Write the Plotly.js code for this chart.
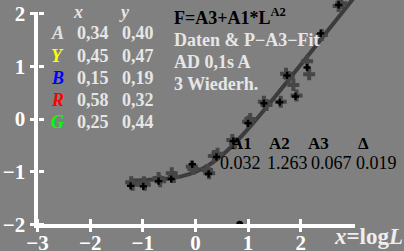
<!DOCTYPE html>
<html>
<head>
<meta charset="utf-8">
<script src="https://cdn.plot.ly/plotly-3.0.1.min.js"></script>
<style>html,body{margin:0;padding:0;background:#808080;}#chart{width:404px;height:251px;}</style>
</head>
<body>
<div id="chart"></div>
<script>
// ---- data ----
var curveX = [-1.25, -1.0, -0.75, -0.5, -0.25, 0.0, 0.25, 0.5, 0.75, 1.0, 1.25, 1.5, 1.75, 2.0, 2.25, 2.5, 2.75, 3.0];
var curveY = [-1.168, -1.163, -1.151, -1.128, -1.084, -1.004, -0.876, -0.690, -0.456, -0.185, 0.107, 0.411, 0.721, 1.034, 1.348, 1.663, 1.979, 2.294];

var repX = [-1.22, -1.19, -0.98, -0.96, -0.70, -0.67, -0.45, -0.41, -0.07, -0.04, 0.22, 0.26, 0.35, 0.42, 0.70, 0.75, 1.00, 1.04, 1.30, 1.35, 1.62, 1.72, 1.77, 1.86, 1.92, 2.12, 2.16, 2.40, 2.72, 2.77];
var repY = [-1.20, -1.25, -1.20, -1.25, -1.12, -1.18, -1.03, -1.10, -0.90, -0.95, -0.97, -1.03, -0.70, -0.66, -0.40, -0.46, -0.05, 0.00, 0.33, 0.27, 0.33, 0.86, 0.80, 0.65, 0.45, 1.10, 0.85, 1.60, 2.15, 2.20];

var meanX = [-1.23, -0.99, -0.70, -0.46, -0.06, 0.25, 0.40, 0.72, 1.00, 1.30, 1.60, 1.74, 1.90, 2.12, 2.38, 2.72];
var meanY = [-1.27, -1.28, -1.18, -1.14, -0.86, -1.04, -0.72, -0.42, -0.08, 0.30, 0.32, 0.83, 0.43, 0.98, 1.63, 2.17];

var markX = [0.84];
var markY = [-2];

var xTickVals = [-3, -2, -1, 0, 1, 2];
var xTickText = ["\u22123", "\u22122", "\u22121", "0", "1", "2"];
var yTickVals = [-2, -1, 0, 1, 2];
var yTickText = ["\u22122", "\u22121", "0", "1", "2"];

var colorNames = ["A", "Y", "B", "R", "G"];
var colorColors = ["#e0e0e0", "#ffff00", "#0000ff", "#ff0000", "#00ff00"];
var colorX = ["0,34", "0,45", "0,15", "0,58", "0,25"];
var colorY = ["0,40", "0,47", "0,19", "0,32", "0,44"];

var infoLines = ["Daten &amp; P\u2212A3\u2212Fit", "AD 0,1s A", "3 Wiederh."];
var paramNames = ["A1", "A2", "A3", "\u0394"];
var paramValues = ["0.032", "1.263", "0.067", "0.019"];

// ---- layout helpers ----
var W = 404, H = 251;
function px(x) { return x / W; }
function py(y) { return 1 - y / H; }
var SERIF = "Liberation Serif, Times New Roman, serif";
var LIGHT = "#e6e6e6";

var annotations = [];
function ann(text, x, y, opts) {
  var a = {text: text, x: px(x), y: py(y), xref: "paper", yref: "paper", showarrow: false,
    xanchor: "left", yanchor: "middle", borderpad: 0,
    font: {family: SERIF, size: 18, color: LIGHT}};
  for (var k in opts) {
    if (k === "font") { for (var f in opts.font) a.font[f] = opts.font[f]; }
    else a[k] = opts[k];
  }
  annotations.push(a);
}

// table header
ann("<b><i>x</i></b>", 78, 12, {xanchor: "center"});
ann("<b><i>y</i></b>", 124, 12, {xanchor: "center"});
var rowY = [33, 56, 78, 100, 122];
for (var i = 0; i < colorNames.length; i++) {
  ann("<b><i>" + colorNames[i] + "</i></b>", 58, rowY[i], {xanchor: "center", font: {color: colorColors[i], size: 18}});
  ann("<b>" + colorX[i] + "</b>", 76, rowY[i], {});
  ann("<b>" + colorY[i] + "</b>", 121, rowY[i], {});
}
// formula and info block
ann("<b>F=A3+A1*L<sup>A2</sup></b>", 173, 17, {font: {color: "#000000", size: 18}});
for (var j = 0; j < infoLines.length; j++) {
  ann("<b>" + infoLines[j] + "</b>", 173, 40 + 22 * j, {});
}
// parameter table
var paramHeadX = [230, 268, 307, 357];
var paramValX = [219, 266, 310, 355];
for (var p = 0; p < paramNames.length; p++) {
  ann("<b>" + paramNames[p] + "</b>", paramHeadX[p], 143, {font: {color: "#000000", size: 17}});
  ann(paramValues[p], paramValX[p], 163, {font: {color: "#000000", size: 18}});
}
// axis name
ann("<b><i>x</i>=log<i>L</i></b>", 404, 236, {xanchor: "right", font: {size: 23, color: "#eeeeee"}});

var traces = [
  {x: curveX, y: curveY, xaxis: "x", yaxis: "y", mode: "lines", type: "scatter",
   line: {color: "#3c3c3c", width: 4, shape: "spline"}, hoverinfo: "skip"},
  {x: repX, y: repY, xaxis: "x", yaxis: "y", mode: "markers", type: "scatter",
   marker: {symbol: "cross", size: 10, color: "#464646"}, hoverinfo: "skip"},
  {x: meanX, y: meanY, xaxis: "x", yaxis: "y", mode: "markers", type: "scatter",
   marker: {symbol: "cross", size: 6, color: "#000000"}, hoverinfo: "skip"},
  {x: markX, y: markY, xaxis: "x2", yaxis: "y2", mode: "markers", type: "scatter", cliponaxis: false,
   marker: {symbol: "circle", size: 7, color: "#000000"}, hoverinfo: "skip"}
];

var tickFont = {family: SERIF, size: 21, color: "#ffffff", weight: 700};
var layout = {
  width: W, height: H,
  margin: {l: 0, r: 0, t: 0, b: 0, pad: 0},
  paper_bgcolor: "#808080", plot_bgcolor: "rgba(0,0,0,0)",
  showlegend: false,
  xaxis: {domain: [0, 1], range: [-3.712, 3.961], anchor: "free", position: 26.7 / H,
    showline: false, showgrid: false, zeroline: false, showticklabels: false,
    tickmode: "array", tickvals: xTickVals, ticks: "inside", ticklen: 5, tickwidth: 3, tickcolor: "#ffffff"},
  yaxis: {domain: [0, 1], range: [-2.508, 2.264], anchor: "free", position: 37.5 / W,
    showline: false, showgrid: false, zeroline: false, showticklabels: false,
    tickmode: "array", tickvals: yTickVals, ticks: "inside", ticklen: 5, tickwidth: 3, tickcolor: "#ffffff"},
  xaxis2: {domain: [37.5 / W, 355 / W], range: [-3, 3.03], anchor: "y2",
    showline: true, linecolor: "#ffffff", linewidth: 4, showgrid: false, zeroline: false,
    tickmode: "array", tickvals: xTickVals, ticktext: xTickText, ticks: "outside", ticklen: 4, tickwidth: 3,
    tickcolor: "#ffffff", tickfont: tickFont, ticklabelstandoff: -8},
  yaxis2: {domain: [26.7 / H, (H - 12) / H], range: [-2, 2.036], anchor: "x2",
    showline: true, linecolor: "#ffffff", linewidth: 4, showgrid: false, zeroline: false,
    tickmode: "array", tickvals: yTickVals, ticktext: yTickText, ticks: "outside", ticklen: 4, tickwidth: 3,
    tickcolor: "#ffffff", tickfont: tickFont, ticklabelstandoff: 0},
  annotations: annotations
};

Plotly.newPlot("chart", traces, layout, {staticPlot: true, displayModeBar: false});
</script>
</body>
</html>
